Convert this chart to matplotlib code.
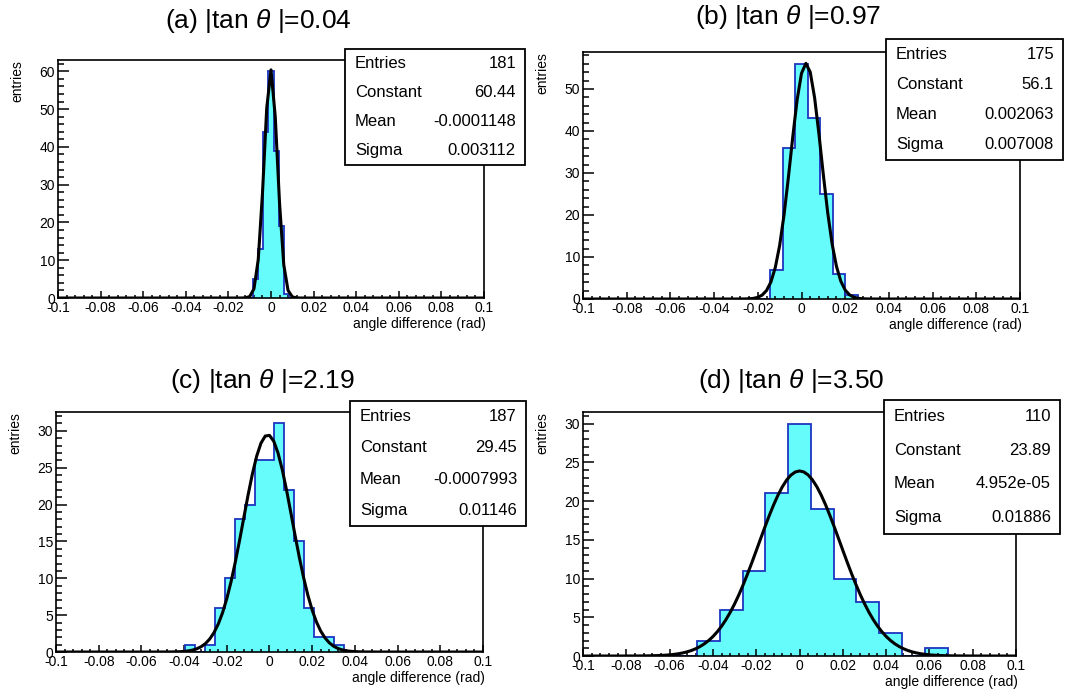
import numpy as np
import matplotlib.pyplot as plt
from matplotlib.ticker import MultipleLocator, FuncFormatter
from matplotlib.patches import Rectangle

plt.rcParams['font.family'] = ['Liberation Sans', 'DejaVu Sans']
plt.rcParams['mathtext.fontset'] = 'custom'
plt.rcParams['mathtext.it'] = 'Liberation Sans:italic'
plt.rcParams['mathtext.rm'] = 'Liberation Sans'

W, H = 1065, 691

# --- data ---
titles = ['(a) |tan $\\mathit{\\theta}$ |=0.04', '(b) |tan $\\mathit{\\theta}$ |=0.97',
          '(c) |tan $\\mathit{\\theta}$ |=2.19', '(d) |tan $\\mathit{\\theta}$ |=3.50']
nbins = [85, 35, 43, 19]          # bins over -0.1 .. 0.1
first_bin = [39, 15, 13, 5]       # index of first listed bin
counts_a = [5, 13, 44, 60, 39, 19, 1]
counts_b = [7, 36, 56, 43, 25, 6, 1]
counts_c = [1, 0, 1, 6, 10, 18, 20, 26, 26, 31, 22, 15, 6, 2, 2, 1]
counts_d = [2, 6, 11, 21, 30, 19, 10, 7, 3, 0, 1]
counts = [counts_a, counts_b, counts_c, counts_d]

entries = [181, 175, 187, 110]
constant = [60.44, 56.1, 29.45, 23.89]
mean = [-0.0001148, 0.002063, -0.0007993, 4.952e-05]
sigma = [0.003112, 0.007008, 0.01146, 0.01886]

ymajor = [10, 10, 5, 5]
yminor = [2, 2, 1, 1]

# --- layout (pixels) ---
ax_px = [(58, 484, 60, 298), (583, 1020, 52, 299), (56, 483, 412, 652), (583, 1016, 412, 656)]
box_px = [(345, 525, 49, 165), (886, 1063, 39, 160), (350, 526, 401, 526), (884, 1060, 400, 534)]
title_px = [(258, 21), (788, 17), (262, 381), (791, 381)]


def fx(x):
    return x / W


def fy(y):
    return 1 - y / H


fig = plt.figure(figsize=(W / 100, H / 100), dpi=100)

for i in range(4):
    x0, x1, y0, y1 = ax_px[i]
    ax = fig.add_axes([fx(x0), fy(y1), (x1 - x0) / W, (y1 - y0) / H])

    edges = np.linspace(-0.1, 0.1, nbins[i] + 1)
    full = np.zeros(nbins[i])
    full[first_bin[i]:first_bin[i] + len(counts[i])] = counts[i]
    ax.stairs(full, edges, fill=True, color='#66fcfc', zorder=1)
    ax.stairs(full, edges, color='#1c35c0', lw=1.3, baseline=0, zorder=2)

    # gaussian fit from the stat box parameters (drawn with 100 points like ROOT)
    xs = np.linspace(-0.1, 0.1, 101)
    ax.plot(xs, constant[i] * np.exp(-0.5 * ((xs - mean[i]) / sigma[i]) ** 2),
            color='black', lw=2.2, zorder=3)

    ax.set_xlim(-0.1, 0.1)
    ax.set_ylim(0, 1.05 * max(counts[i]))
    ax.xaxis.set_major_locator(MultipleLocator(0.02))
    ax.xaxis.set_minor_locator(MultipleLocator(0.004))
    ax.yaxis.set_major_locator(MultipleLocator(ymajor[i]))
    ax.yaxis.set_minor_locator(MultipleLocator(yminor[i]))
    ax.xaxis.set_major_formatter(FuncFormatter(lambda v, p: '0' if abs(v) < 1e-9 else '%g' % round(v, 3)))
    ax.yaxis.set_major_formatter(FuncFormatter(lambda v, p: '%g' % round(v, 3)))
    ax.tick_params(which='both', direction='in', top=False, right=False, labelsize=10, width=1.1, pad=2)
    ax.tick_params(axis='x', which='major', length=5)
    ax.tick_params(axis='x', which='minor', length=2.5)
    ax.tick_params(axis='y', which='major', length=8)
    ax.tick_params(axis='y', which='minor', length=4)
    for s in ax.spines.values():
        s.set_linewidth(1.2)

    # axis titles, ROOT style
    fig.text(fx(x0 - 41), fy(y0), 'entries', rotation=90, ha='center', va='top', fontsize=10)
    fig.text(fx(x1 + 2), fy(y1 + 26), 'angle difference (rad)', ha='right', va='center', fontsize=10)

    # title
    tx, ty = title_px[i]
    fig.text(fx(tx), fy(ty), titles[i], ha='center', va='center', fontsize=19)

    # stat box
    bx0, bx1, by0, by1 = box_px[i]
    fig.add_artist(Rectangle((fx(bx0), fy(by1)), (bx1 - bx0) / W, (by1 - by0) / H,
                             transform=fig.transFigure, facecolor='white',
                             edgecolor='black', lw=1.3, zorder=10))
    rows = [('Entries', '%d' % entries[i]), ('Constant', '%.4g' % constant[i]),
            ('Mean', '%.4g' % mean[i]), ('Sigma', '%.4g' % sigma[i])]
    rh = (by1 - by0) / 4
    for k, (lab, val) in enumerate(rows):
        yy = fy(by0 + (k + 0.5) * rh)
        fig.text(fx(bx0 + 10), yy, lab, ha='left', va='center', fontsize=12, zorder=11)
        fig.text(fx(bx1 - 9), yy, val, ha='right', va='center', fontsize=12, zorder=11)

plt.savefig('out.png', dpi=100)
